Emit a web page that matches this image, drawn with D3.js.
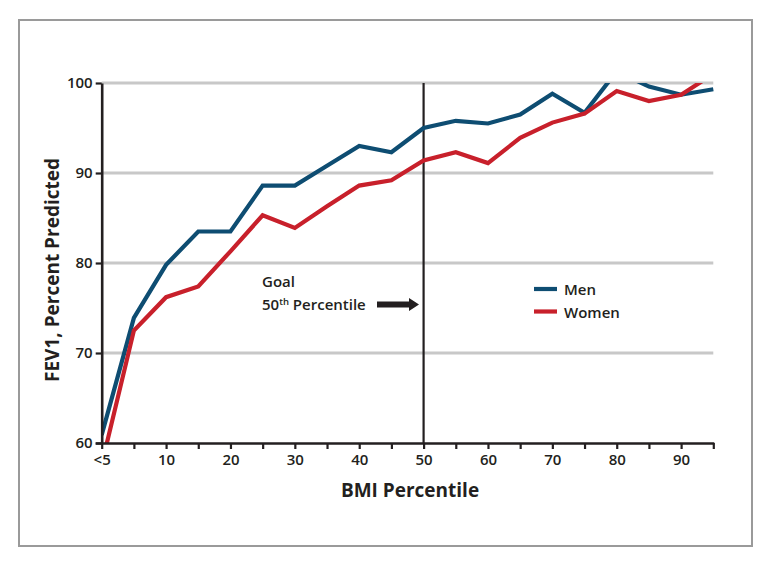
<!DOCTYPE html>
<html>
<head>
<meta charset="utf-8">
<script src="https://cdn.jsdelivr.net/npm/d3@7"></script>
<style>
  body { margin: 0; background: #fff; }
  text { font-family: "Open Sans", "Noto Sans", sans-serif; fill: #231f20; }
</style>
</head>
<body>
<div id="chart"></div>
<script>
// BMI percentile groups (0 = "<5")
var bmiPct = [0, 5, 10, 15, 20, 25, 30, 35, 40, 45, 50, 55, 60, 65, 70, 75, 80, 85, 90, 95];
var menFev1 = [60.9, 73.9, 79.8, 83.5, 83.5, 88.6, 88.6, 90.8, 93.0, 92.3, 95.0, 95.8, 95.5, 96.5, 98.8, 96.7, 101.3, 99.6, 98.7, 99.3];
var womenFev1 = [57.6, 72.5, 76.2, 77.4, 81.3, 85.3, 83.9, 86.3, 88.6, 89.2, 91.4, 92.3, 91.1, 93.9, 95.6, 96.6, 99.1, 98.0, 98.7, 101.0];
var yTicks = [60, 70, 80, 90, 100];
var xLabels = {0: "<5", 10: "10", 20: "20", 30: "30", 40: "40", 50: "50", 60: "60", 70: "70", 80: "80", 90: "90"};
var seriesNames = ["Men", "Women"];
var goalPct = 50;

function getConfig(){
    let width = 773, height = 565;
    let plot = {left: 101.7, right: 713.3, top: 83, bottom: 443};
    let colors = {men: "#0e4d72", women: "#c8202b", grid: "#c8c8c8", axis: "#231f20"};
    return {width, height, plot, colors};
}

function draw(){
    let config = getConfig();
    let p = config.plot;

    let svg = d3.select("#chart").append("svg")
        .attr("width", config.width)
        .attr("height", config.height);

    // outer frame
    svg.append("rect")
        .attr("x", 19).attr("y", 20)
        .attr("width", 733).attr("height", 526)
        .attr("fill", "none")
        .attr("stroke", "#9a9a9a")
        .attr("stroke-width", 2);

    let xScale = d3.scaleLinear().domain([0, 95]).range([p.left, p.right]);
    let yScale = d3.scaleLinear().domain([60, 100]).range([p.bottom, p.top]);

    // gridlines
    svg.append("g").selectAll("line")
        .data(yTicks.filter(d => d > 60))
        .join("line")
        .attr("x1", p.left).attr("x2", p.right)
        .attr("y1", d => yScale(d)).attr("y2", d => yScale(d))
        .attr("stroke", config.colors.grid)
        .attr("stroke-width", 3);

    // goal line at 50th percentile
    svg.append("line")
        .attr("x1", xScale(goalPct)).attr("x2", xScale(goalPct))
        .attr("y1", yScale(100)).attr("y2", yScale(60))
        .attr("stroke", config.colors.axis)
        .attr("stroke-width", 2.2);

    // clip lines to the plot area
    svg.append("clipPath").attr("id", "plotClip")
        .append("rect")
        .attr("x", p.left).attr("y", p.top)
        .attr("width", p.right - p.left + 10)
        .attr("height", p.bottom - p.top);

    let line = d3.line()
        .x((d, i) => xScale(bmiPct[i]))
        .y(d => yScale(d));

    let lines = svg.append("g").attr("clip-path", "url(#plotClip)");
    lines.append("path").datum(menFev1)
        .attr("d", line).attr("fill", "none")
        .attr("stroke", config.colors.men).attr("stroke-width", 4.2)
        .attr("stroke-linejoin", "miter");
    lines.append("path").datum(womenFev1)
        .attr("d", line).attr("fill", "none")
        .attr("stroke", config.colors.women).attr("stroke-width", 4.2)
        .attr("stroke-linejoin", "miter");

    // x axis
    let xAx = svg.append("g")
        .attr("transform", `translate(0, ${p.bottom})`)
        .call(d3.axisBottom(xScale)
            .tickValues(bmiPct)
            .tickSize(6)
            .tickSizeOuter(0)
            .tickFormat(d => xLabels[d] || ""));
    xAx.select(".domain").attr("stroke", config.colors.axis).attr("stroke-width", 2.6)
        .attr("d", `M${p.left - 6},0.5H${p.right + 1}`);
    xAx.selectAll(".tick line").attr("stroke", config.colors.axis).attr("stroke-width", 2.2);
    xAx.selectAll(".tick text")
        .attr("font-size", 15).attr("font-weight", 600)
        .attr("fill", config.colors.axis)
        .attr("y", 11);

    // y axis
    let yAx = svg.append("g")
        .attr("transform", `translate(${p.left}, 0)`)
        .call(d3.axisLeft(yScale)
            .tickValues(yTicks)
            .tickSize(6)
            .tickSizeOuter(0));
    yAx.select(".domain").attr("stroke", config.colors.axis).attr("stroke-width", 2.6);
    yAx.selectAll(".tick line").attr("stroke", config.colors.axis).attr("stroke-width", 2.2);
    yAx.selectAll(".tick text")
        .attr("font-size", 15).attr("font-weight", 600)
        .attr("fill", config.colors.axis)
        .attr("x", -9);

    // axis titles
    svg.append("text")
        .attr("x", 410).attr("y", 497)
        .attr("text-anchor", "middle")
        .attr("font-size", 19).attr("font-weight", 700)
        .text("BMI Percentile");
    svg.append("text")
        .attr("transform", `translate(59, 270) rotate(-90)`)
        .attr("text-anchor", "middle")
        .attr("font-size", 19).attr("font-weight", 700)
        .text("FEV1, Percent Predicted");

    // goal annotation
    svg.append("text")
        .attr("x", 262).attr("y", 287)
        .attr("font-size", 15).attr("font-weight", 600)
        .text("Goal");
    let pt = svg.append("text")
        .attr("x", 262).attr("y", 310)
        .attr("font-size", 15).attr("font-weight", 600);
    pt.append("tspan").text("50");
    pt.append("tspan").attr("font-size", 9.5).attr("dy", -5.5).text("th");
    pt.append("tspan").attr("dy", 5.5).text(" Percentile");

    svg.append("path")
        .attr("d", "M377,301.5H409V298L419,304.5L409,311V307.5H377Z")
        .attr("fill", config.colors.axis);

    // legend
    let legend = svg.append("g");
    seriesNames.forEach((name, i) => {
        let yy = 289 + i * 22.5;
        legend.append("line")
            .attr("x1", 534).attr("x2", 557)
            .attr("y1", yy).attr("y2", yy)
            .attr("stroke", i === 0 ? config.colors.men : config.colors.women)
            .attr("stroke-width", 4.2);
        legend.append("text")
            .attr("x", 564).attr("y", yy + 6)
            .attr("font-size", 15).attr("font-weight", 600)
            .text(name);
    });
}

draw();
</script>
</body>
</html>
